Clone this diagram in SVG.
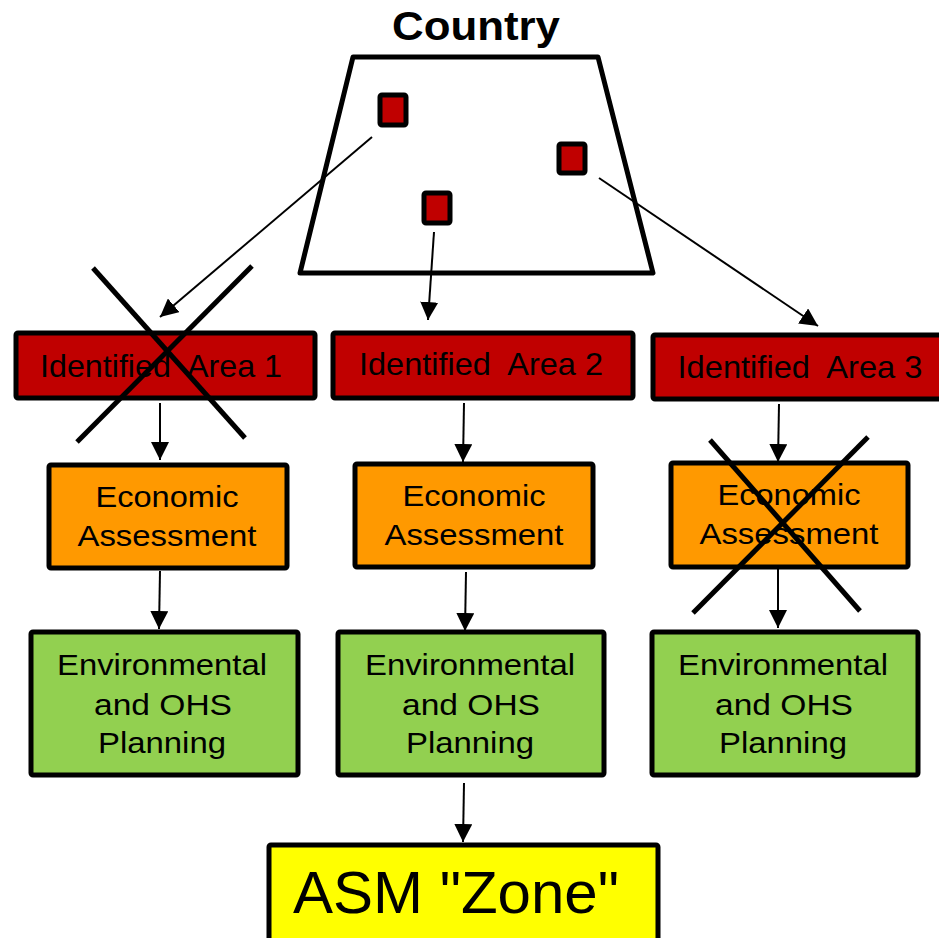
<svg xmlns="http://www.w3.org/2000/svg" width="939" height="938" viewBox="0 0 939 938">
<defs>
<marker id="ah" markerUnits="userSpaceOnUse" markerWidth="18" markerHeight="18" refX="18" refY="9" orient="auto" viewBox="0 0 18 18">
<path d="M0,0 L18,9 L0,18 z" fill="#000"/>
</marker>
<style>
.box{stroke:#000;stroke-width:5;stroke-linejoin:round}
.red{fill:#C00000}
.org{fill:#FF9900}
.grn{fill:#92D050}
.yel{fill:#FFFF00}
.t{font-family:"Liberation Sans",Arial,sans-serif;font-size:30px;fill:#000;text-anchor:middle}
.conn line{stroke:#000;stroke-width:2;marker-end:url(#ah)}
.x line{stroke:#000;stroke-width:5}
</style>
</defs>
<rect width="939" height="938" fill="#fff"/>

<g id="country">
<text x="476" y="40" style="font-family:'Liberation Sans',Arial,sans-serif;font-weight:bold;font-size:41px;text-anchor:middle" textLength="168" lengthAdjust="spacingAndGlyphs">Country</text>
<polygon points="353,57 598,57 653,273 300,273" fill="#fff" stroke="#000" stroke-width="5" stroke-linejoin="round"/>
<rect x="380" y="95" width="26" height="30" rx="2" class="box red"/>
<rect x="424" y="193" width="26" height="30" rx="2" class="box red"/>
<rect x="559" y="144" width="26" height="29" rx="2" class="box red"/>
</g>

<g id="area1">
<rect x="16" y="333" width="299" height="65" rx="2" class="box red"/>
<text x="161" y="377" class="t" style="font-size:32px" xml:space="preserve" textLength="242" lengthAdjust="spacingAndGlyphs">Identified  Area 1</text>
</g>
<g id="area2">
<rect x="333" y="333" width="300" height="65" rx="2" class="box red"/>
<text x="481" y="375" class="t" style="font-size:32px" xml:space="preserve" textLength="244" lengthAdjust="spacingAndGlyphs">Identified  Area 2</text>
</g>
<g id="area3">
<rect x="653" y="335" width="294" height="64" rx="2" class="box red"/>
<text x="800" y="378" class="t" style="font-size:32px" xml:space="preserve" textLength="245" lengthAdjust="spacingAndGlyphs">Identified  Area 3</text>
</g>

<g id="econ1">
<rect x="49" y="465" width="238" height="103" rx="2" class="box org"/>
<text x="167" y="507" class="t" textLength="143" lengthAdjust="spacingAndGlyphs">Economic</text>
<text x="167" y="546" class="t" textLength="179" lengthAdjust="spacingAndGlyphs">Assessment</text>
</g>
<g id="econ2">
<rect x="355" y="464" width="238" height="103" rx="2" class="box org"/>
<text x="474" y="506" class="t" textLength="143" lengthAdjust="spacingAndGlyphs">Economic</text>
<text x="474" y="545" class="t" textLength="179" lengthAdjust="spacingAndGlyphs">Assessment</text>
</g>
<g id="econ3">
<rect x="671" y="463" width="237" height="104" rx="2" class="box org"/>
<text x="789" y="505" class="t" textLength="143" lengthAdjust="spacingAndGlyphs">Economic</text>
<text x="789" y="544" class="t" textLength="179" lengthAdjust="spacingAndGlyphs">Assessment</text>
</g>

<g id="env1">
<rect x="31" y="632" width="267" height="143" rx="2" class="box grn"/>
<text x="162" y="675" class="t" textLength="210" lengthAdjust="spacingAndGlyphs">Environmental</text>
<text x="163" y="715" class="t" textLength="138" lengthAdjust="spacingAndGlyphs">and OHS</text>
<text x="162" y="753" class="t" textLength="128" lengthAdjust="spacingAndGlyphs">Planning</text>
</g>
<g id="env2">
<rect x="338" y="632" width="266" height="143" rx="2" class="box grn"/>
<text x="470" y="675" class="t" textLength="210" lengthAdjust="spacingAndGlyphs">Environmental</text>
<text x="471" y="715" class="t" textLength="138" lengthAdjust="spacingAndGlyphs">and OHS</text>
<text x="470" y="753" class="t" textLength="128" lengthAdjust="spacingAndGlyphs">Planning</text>
</g>
<g id="env3">
<rect x="652" y="632" width="266" height="143" rx="2" class="box grn"/>
<text x="783" y="675" class="t" textLength="210" lengthAdjust="spacingAndGlyphs">Environmental</text>
<text x="784" y="715" class="t" textLength="138" lengthAdjust="spacingAndGlyphs">and OHS</text>
<text x="783" y="753" class="t" textLength="128" lengthAdjust="spacingAndGlyphs">Planning</text>
</g>

<g id="zone">
<rect x="269" y="845" width="389" height="100" rx="2" class="box yel"/>
<text x="456" y="913" class="t" style="font-size:60px">ASM "Zone"</text>
</g>

<g id="connectors" class="conn">
<line x1="372" y1="137" x2="160" y2="317"/>
<line x1="434" y1="232" x2="428" y2="320"/>
<line x1="599" y1="178" x2="818" y2="326"/>
<line x1="160" y1="403" x2="160" y2="460"/>
<line x1="464" y1="403" x2="463" y2="462"/>
<line x1="779" y1="404" x2="778" y2="462"/>
<line x1="160" y1="571" x2="159" y2="629"/>
<line x1="466" y1="572" x2="465" y2="631"/>
<line x1="778" y1="569" x2="778" y2="628"/>
<line x1="464" y1="783" x2="463" y2="842"/>
</g>

<g id="cross1" class="x">
<line x1="93" y1="268" x2="245" y2="438"/>
<line x1="252" y1="266" x2="77" y2="442"/>
</g>
<g id="cross3" class="x">
<line x1="710" y1="440" x2="860" y2="611"/>
<line x1="868" y1="437" x2="693" y2="613"/>
</g>
</svg>
